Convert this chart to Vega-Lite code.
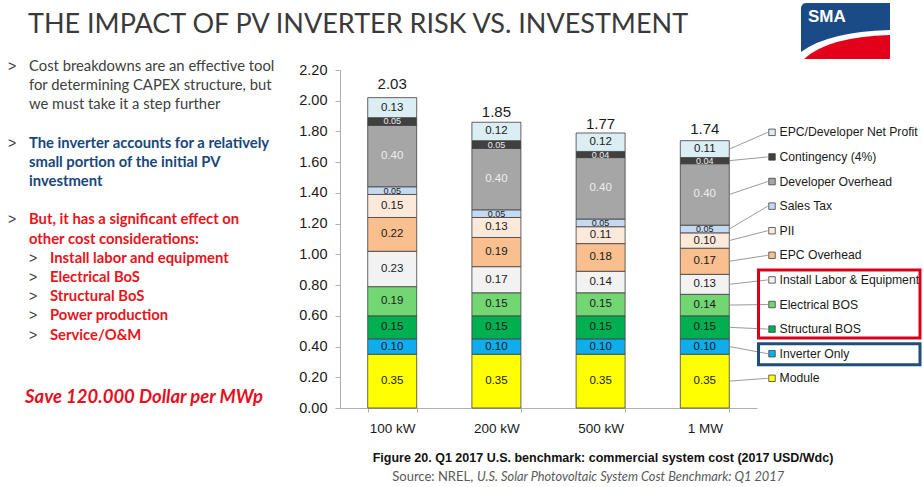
{
  "$schema": "https://vega.github.io/schema/vega-lite/v6.json",
  "background": "white",
  "padding": {"left": 8, "top": 3, "right": 0, "bottom": 0},
  "bounds": "flush",
  "spacing": 38,
  "config": {
    "view": {"stroke": null},
    "font": "Liberation Sans",
    "axis": {"grid": false, "domainColor": "#b0b0b0", "tickColor": "#b0b0b0", "labelFont": "Liberation Sans", "labelColor": "#1a1a1a"}
  },
  "datasets": {
    "costs": [
      {"size": "100 kW", "category": "Module", "value": 0.35, "order": 1},
      {"size": "100 kW", "category": "Inverter Only", "value": 0.10, "order": 2},
      {"size": "100 kW", "category": "Structural BOS", "value": 0.15, "order": 3},
      {"size": "100 kW", "category": "Electrical BOS", "value": 0.19, "order": 4},
      {"size": "100 kW", "category": "Install Labor & Equipment", "value": 0.23, "order": 5},
      {"size": "100 kW", "category": "EPC Overhead", "value": 0.22, "order": 6},
      {"size": "100 kW", "category": "PII", "value": 0.15, "order": 7},
      {"size": "100 kW", "category": "Sales Tax", "value": 0.05, "order": 8},
      {"size": "100 kW", "category": "Developer Overhead", "value": 0.40, "order": 9},
      {"size": "100 kW", "category": "Contingency (4%)", "value": 0.05, "order": 10},
      {"size": "100 kW", "category": "EPC/Developer Net Profit", "value": 0.13, "order": 11},
      {"size": "200 kW", "category": "Module", "value": 0.35, "order": 1},
      {"size": "200 kW", "category": "Inverter Only", "value": 0.10, "order": 2},
      {"size": "200 kW", "category": "Structural BOS", "value": 0.15, "order": 3},
      {"size": "200 kW", "category": "Electrical BOS", "value": 0.15, "order": 4},
      {"size": "200 kW", "category": "Install Labor & Equipment", "value": 0.17, "order": 5},
      {"size": "200 kW", "category": "EPC Overhead", "value": 0.19, "order": 6},
      {"size": "200 kW", "category": "PII", "value": 0.13, "order": 7},
      {"size": "200 kW", "category": "Sales Tax", "value": 0.05, "order": 8},
      {"size": "200 kW", "category": "Developer Overhead", "value": 0.40, "order": 9},
      {"size": "200 kW", "category": "Contingency (4%)", "value": 0.05, "order": 10},
      {"size": "200 kW", "category": "EPC/Developer Net Profit", "value": 0.12, "order": 11},
      {"size": "500 kW", "category": "Module", "value": 0.35, "order": 1},
      {"size": "500 kW", "category": "Inverter Only", "value": 0.10, "order": 2},
      {"size": "500 kW", "category": "Structural BOS", "value": 0.15, "order": 3},
      {"size": "500 kW", "category": "Electrical BOS", "value": 0.15, "order": 4},
      {"size": "500 kW", "category": "Install Labor & Equipment", "value": 0.14, "order": 5},
      {"size": "500 kW", "category": "EPC Overhead", "value": 0.18, "order": 6},
      {"size": "500 kW", "category": "PII", "value": 0.11, "order": 7},
      {"size": "500 kW", "category": "Sales Tax", "value": 0.05, "order": 8},
      {"size": "500 kW", "category": "Developer Overhead", "value": 0.40, "order": 9},
      {"size": "500 kW", "category": "Contingency (4%)", "value": 0.04, "order": 10},
      {"size": "500 kW", "category": "EPC/Developer Net Profit", "value": 0.12, "order": 11},
      {"size": "1 MW", "category": "Module", "value": 0.35, "order": 1},
      {"size": "1 MW", "category": "Inverter Only", "value": 0.10, "order": 2},
      {"size": "1 MW", "category": "Structural BOS", "value": 0.15, "order": 3},
      {"size": "1 MW", "category": "Electrical BOS", "value": 0.14, "order": 4},
      {"size": "1 MW", "category": "Install Labor & Equipment", "value": 0.13, "order": 5},
      {"size": "1 MW", "category": "EPC Overhead", "value": 0.17, "order": 6},
      {"size": "1 MW", "category": "PII", "value": 0.10, "order": 7},
      {"size": "1 MW", "category": "Sales Tax", "value": 0.05, "order": 8},
      {"size": "1 MW", "category": "Developer Overhead", "value": 0.40, "order": 9},
      {"size": "1 MW", "category": "Contingency (4%)", "value": 0.04, "order": 10},
      {"size": "1 MW", "category": "EPC/Developer Net Profit", "value": 0.11, "order": 11}
    ],
    "totals": [
      {"size": "100 kW", "total": 2.03},
      {"size": "200 kW", "total": 1.85},
      {"size": "500 kW", "total": 1.77},
      {"size": "1 MW", "total": 1.74}
    ],
    "notes": [
      {"line": 0, "level": 1, "para": 1, "bullet": true, "text": "Cost breakdowns are an effective tool"},
      {"line": 1, "level": 1, "para": 1, "bullet": false, "text": "for determining CAPEX structure, but"},
      {"line": 2, "level": 1, "para": 1, "bullet": false, "text": "we must take it a step further"},
      {"line": 4, "level": 1, "para": 2, "bullet": true, "text": "The inverter accounts for a relatively"},
      {"line": 5, "level": 1, "para": 2, "bullet": false, "text": "small portion of the initial PV"},
      {"line": 6, "level": 1, "para": 2, "bullet": false, "text": "investment"},
      {"line": 8, "level": 1, "para": 3, "bullet": true, "text": "But, it has a significant effect on"},
      {"line": 9, "level": 1, "para": 3, "bullet": false, "text": "other cost considerations:"},
      {"line": 10, "level": 2, "para": 3, "bullet": true, "text": "Install labor and equipment"},
      {"line": 11, "level": 2, "para": 3, "bullet": true, "text": "Electrical BoS"},
      {"line": 12, "level": 2, "para": 3, "bullet": true, "text": "Structural BoS"},
      {"line": 13, "level": 2, "para": 3, "bullet": true, "text": "Power production"},
      {"line": 14, "level": 2, "para": 3, "bullet": true, "text": "Service/O&M"},
      {"line": 17.2, "level": 1, "para": 4, "bullet": false, "text": "Save 120.000 Dollar per MWp"}
    ],
    "blank": [{}]
  },
  "hconcat": [
    {
      "width": 294,
      "height": 338,
      "title": {"text": "THE IMPACT OF PV INVERTER RISK VS. INVESTMENT", "anchor": "start", "frame": "group", "dx": 20, "fontSize": 27, "font": "Lato", "fontWeight": "normal", "color": "#3a3a3a", "baseline": "alphabetic", "offset": -1, "limit": 2000},
      "data": {"name": "notes"},
      "encoding": {
        "x": {"field": "level", "type": "quantitative", "axis": null, "scale": {"domain": [0, 14], "nice": false}},
        "y": {"field": "line", "type": "quantitative", "axis": null, "scale": {"domain": [0.172, 17.772], "reverse": true, "nice": false, "zero": false}}
      },
      "layer": [
        {
          "transform": [{"filter": "datum.bullet"}],
          "mark": {"type": "text", "text": ">", "align": "left", "baseline": "middle", "xOffset": -21, "font": "Liberation Sans", "fontSize": 14, "color": "#404040"}
        },
        {
          "transform": [{"filter": "datum.para === 1"}],
          "mark": {"type": "text", "align": "left", "baseline": "middle", "font": "Lato", "fontSize": 14.8, "color": "#404040"},
          "encoding": {"text": {"field": "text"}}
        },
        {
          "transform": [{"filter": "datum.para === 2"}],
          "mark": {"type": "text", "align": "left", "baseline": "middle", "font": "Lato", "fontSize": 14.8, "fontWeight": "bold", "color": "#17477b"},
          "encoding": {"text": {"field": "text"}}
        },
        {
          "transform": [{"filter": "datum.para === 3"}],
          "mark": {"type": "text", "align": "left", "baseline": "middle", "font": "Lato", "fontSize": 14.8, "fontWeight": "bold", "color": "#e8141c"},
          "encoding": {"text": {"field": "text"}}
        },
        {
          "transform": [{"filter": "datum.para === 4"}],
          "mark": {"type": "text", "align": "left", "baseline": "middle", "xOffset": -4, "font": "Lato", "fontSize": 18.5, "fontWeight": "bold", "fontStyle": "italic", "color": "#e4101e"},
          "encoding": {"text": {"field": "text"}}
        }
      ]
    },
    {
      "width": 417,
      "height": 338,
      "layer": [
        {
          "data": {"name": "costs"},
          "transform": [
            {"stack": "value", "groupby": ["size"], "sort": [{"field": "order", "order": "ascending"}], "as": ["y0", "y1"]},
            {"calculate": "(datum.y0 + datum.y1) / 2", "as": "mid"},
            {"calculate": "0.0332 + 0.1601 * datum.order", "as": "ly"}
          ],
          "layer": [
            {
              "mark": {"type": "bar", "stroke": "#3f3f3f", "strokeWidth": 0.8},
              "encoding": {
                "x": {"field": "size", "type": "nominal", "title": null,
                  "scale": {"domain": ["100 kW", "200 kW", "500 kW", "1 MW"], "paddingInner": 0.5298, "paddingOuter": 0.2659},
                  "axis": {"title": null, "labelFontSize": 13.5, "labelPadding": 9, "tickSize": 4, "tickBand": "extent", "labelAngle": 0}},
                "y": {"field": "y0", "type": "quantitative", "title": null,
                  "scale": {"domain": [0, 2.2], "nice": false},
                  "axis": {"title": null, "values": [0, 0.2, 0.4, 0.6, 0.8, 1, 1.2, 1.4, 1.6, 1.8, 2, 2.2], "tickCount": 24, "format": ".2f", "labelFontSize": 14.5, "labelPadding": 8, "tickSize": 5, "labelOverlap": false}},
                "y2": {"field": "y1"},
                "color": {"field": "category", "type": "nominal", "legend": null,
                  "scale": {
                    "domain": ["Module", "Inverter Only", "Structural BOS", "Electrical BOS", "Install Labor & Equipment", "EPC Overhead", "PII", "Sales Tax", "Developer Overhead", "Contingency (4%)", "EPC/Developer Net Profit"],
                    "range": ["#ffff00", "#0fadeb", "#00b050", "#72d672", "#f2f2f2", "#f9bf8f", "#fde9d9", "#c5d9f1", "#a6a6a6", "#404040", "#dbeef4"]
                  }}
              }
            },
            {
              "mark": {"type": "text", "baseline": "middle", "font": "Liberation Sans"},
              "encoding": {
                "x": {"field": "size", "type": "nominal", "title": null},
                "y": {"field": "mid", "type": "quantitative", "title": null},
                "text": {"field": "value", "type": "quantitative", "format": ".2f"},
                "size": {"condition": {"test": "datum.value <= 0.05", "value": 9}, "value": 11.5},
                "color": {"condition": {"test": "datum.category === 'Developer Overhead' || datum.category === 'Contingency (4%)'", "value": "#eeeeee"}, "value": "#1a1a1a"}
              }
            },
            {
              "transform": [{"filter": "datum.size === '1 MW'"}],
              "mark": {"type": "rule", "color": "#808080", "strokeWidth": 0.8, "xOffset": 24.5, "x2Offset": 63},
              "encoding": {
                "x": {"field": "size", "type": "nominal", "title": null},
                "x2": {"field": "size"},
                "y": {"field": "mid", "type": "quantitative", "title": null},
                "y2": {"field": "ly"}
              }
            },
            {
              "transform": [{"filter": "datum.size === '1 MW'"}],
              "mark": {"type": "point", "shape": "square", "filled": true, "size": 42, "stroke": "#404040", "strokeWidth": 0.8, "opacity": 1, "xOffset": 67.2},
              "encoding": {
                "x": {"field": "size", "type": "nominal", "title": null},
                "y": {"field": "ly", "type": "quantitative", "title": null},
                "color": {"field": "category", "type": "nominal", "legend": null}
              }
            },
            {
              "transform": [{"filter": "datum.size === '1 MW'"}],
              "mark": {"type": "text", "align": "left", "baseline": "middle", "fontSize": 12.2, "xOffset": 74.7, "color": "#1a1a1a"},
              "encoding": {
                "x": {"field": "size", "type": "nominal", "title": null},
                "y": {"field": "ly", "type": "quantitative", "title": null},
                "text": {"field": "category"}
              }
            },
            {
              "transform": [
                {"filter": "datum.size === '1 MW' && datum.order >= 3 && datum.order <= 5"},
                {"aggregate": [{"op": "min", "field": "ly", "as": "lo"}, {"op": "max", "field": "ly", "as": "hi"}], "groupby": ["size"]}
              ],
              "mark": {"type": "rect", "filled": false, "stroke": "#d9001b", "strokeWidth": 3, "xOffset": 53.7, "x2Offset": 215.2, "yOffset": 9, "y2Offset": -10},
              "encoding": {
                "x": {"field": "size", "type": "nominal", "title": null},
                "x2": {"field": "size"},
                "y": {"field": "lo", "type": "quantitative", "title": null},
                "y2": {"field": "hi"}
              }
            },
            {
              "transform": [
                {"filter": "datum.size === '1 MW' && datum.order === 2"},
                {"aggregate": [{"op": "min", "field": "ly", "as": "lo"}, {"op": "max", "field": "ly", "as": "hi"}], "groupby": ["size"]}
              ],
              "mark": {"type": "rect", "filled": false, "stroke": "#1f4e79", "strokeWidth": 3, "xOffset": 53.7, "x2Offset": 215.2, "yOffset": 11, "y2Offset": -10},
              "encoding": {
                "x": {"field": "size", "type": "nominal", "title": null},
                "x2": {"field": "size"},
                "y": {"field": "lo", "type": "quantitative", "title": null},
                "y2": {"field": "hi"}
              }
            }
          ]
        },
        {
          "data": {"name": "totals"},
          "mark": {"type": "text", "baseline": "alphabetic", "dy": -7, "fontSize": 15, "color": "#1a1a1a"},
          "encoding": {
            "x": {"field": "size", "type": "nominal", "title": null},
            "y": {"field": "total", "type": "quantitative", "title": null},
            "text": {"field": "total", "type": "quantitative", "format": ".2f"}
          }
        },
        {
          "data": {"name": "blank"},
          "mark": {"type": "point", "shape": "M-1,0.472 L-1,-0.5 Q-1,-0.629 -0.87,-0.629 L1,-0.629 L1,-0.022 Q-0.4,0.02 -1,0.472 Z", "size": 7921, "filled": true, "fill": "#1b4b87", "strokeWidth": 0, "opacity": 1, "xOffset": 140.7},
          "encoding": {
            "x": {"datum": "1 MW", "type": "nominal", "title": null},
            "y": {"datum": 2.4538, "type": "quantitative", "title": null}
          }
        },
        {
          "data": {"name": "blank"},
          "mark": {"type": "point", "shape": "M1,0.09 L1,0.629 L-0.93,0.629 Q-0.4,0.13 1,0.09 Z", "size": 7921, "filled": true, "fill": "#e2001a", "strokeWidth": 0, "opacity": 1, "xOffset": 140.7},
          "encoding": {
            "x": {"datum": "1 MW", "type": "nominal", "title": null},
            "y": {"datum": 2.4538, "type": "quantitative", "title": null}
          }
        },
        {
          "data": {"name": "blank"},
          "mark": {"type": "text", "text": "SMA", "align": "left", "baseline": "middle", "font": "Liberation Sans", "fontWeight": "bold", "fontSize": 17, "color": "#ffffff", "xOffset": 103.2},
          "encoding": {
            "x": {"datum": "1 MW", "type": "nominal", "title": null},
            "y": {"datum": 2.545, "type": "quantitative", "title": null}
          }
        },
        {
          "data": {"name": "blank"},
          "mark": {"type": "text", "text": "Figure 20. Q1 2017 U.S. benchmark: commercial system cost (2017 USD/Wdc)", "align": "center", "baseline": "middle", "font": "Liberation Sans", "fontWeight": "bold", "fontSize": 12.5, "color": "#111111", "xOffset": 2.4},
          "encoding": {
            "x": {"datum": "500 kW", "type": "nominal", "title": null},
            "y": {"datum": -0.3235, "type": "quantitative", "title": null}
          }
        },
        {
          "data": {"name": "blank"},
          "mark": {"type": "text", "text": "Source: NREL,", "align": "right", "baseline": "middle", "font": "Lato", "fontSize": 13, "color": "#595959", "xOffset": -127.5},
          "encoding": {
            "x": {"datum": "500 kW", "type": "nominal", "title": null},
            "y": {"datum": -0.449, "type": "quantitative", "title": null}
          }
        },
        {
          "data": {"name": "blank"},
          "mark": {"type": "text", "text": "U.S. Solar Photovoltaic System Cost Benchmark: Q1 2017", "align": "left", "baseline": "middle", "font": "Lato", "fontSize": 12.8, "fontStyle": "italic", "color": "#595959", "xOffset": -123.5},
          "encoding": {
            "x": {"datum": "500 kW", "type": "nominal", "title": null},
            "y": {"datum": -0.449, "type": "quantitative", "title": null}
          }
        }
      ]
    }
  ]
}
